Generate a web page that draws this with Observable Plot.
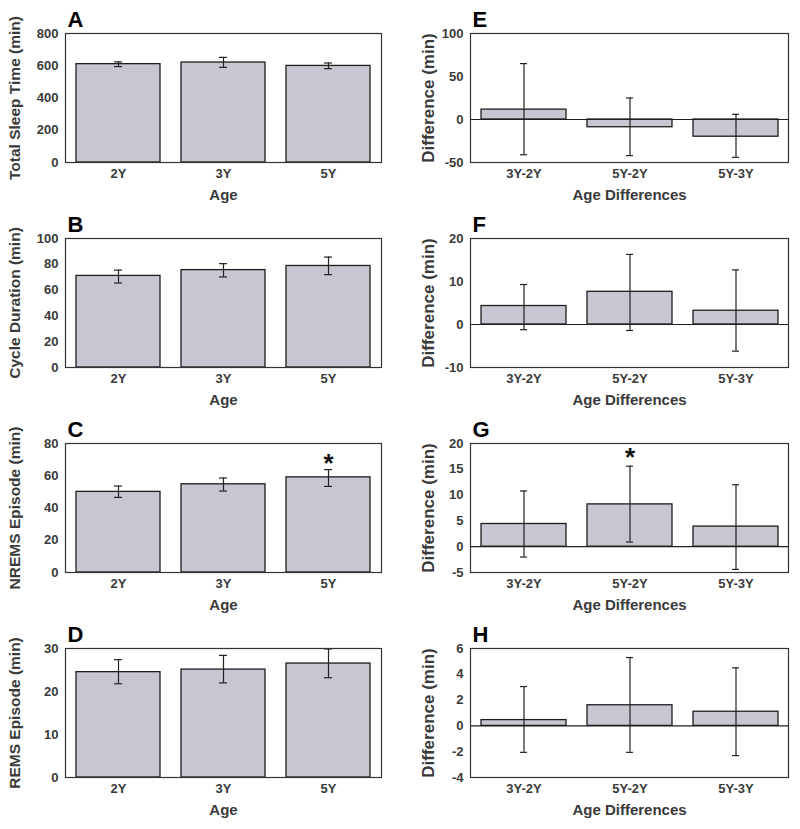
<!DOCTYPE html>
<html>
<head>
<meta charset="utf-8">
<script src="https://cdn.jsdelivr.net/npm/d3@7"></script>
<script src="https://cdn.jsdelivr.net/npm/@observablehq/plot@0.6"></script>
<style>
  html, body { margin: 0; padding: 0; background: #fff; }
  #root { position: relative; width: 800px; height: 829px; }
  .cell { position: absolute; }
</style>
</head>
<body>
<div id="root"></div>
<script>
// ---------- data ----------
const ages = ["2Y", "3Y", "5Y"];
const ageDiffs = ["3Y-2Y", "5Y-2Y", "5Y-3Y"];

// A: Total sleep time
const tstMean = [610, 620, 599];
const tstLo = [595, 590, 582];
const tstHi = [624, 652, 617];
const tstTicks = [0, 200, 400, 600, 800];

// B: Cycle duration
const cycMean = [71, 75.5, 78.7];
const cycLo = [65.5, 70.2, 72];
const cycHi = [75.5, 80.5, 85.6];
const cycTicks = [0, 20, 40, 60, 80, 100];

// C: NREMS episode
const nremMean = [50, 54.7, 59];
const nremLo = [46.6, 50.5, 53.4];
const nremHi = [53.6, 58.6, 63.8];
const nremTicks = [0, 20, 40, 60, 80];
const nremStars = [{cat: "5Y", y: 69}];

// D: REMS episode
const remMean = [24.5, 25.1, 26.5];
const remLo = [21.8, 22.0, 23.2];
const remHi = [27.4, 28.4, 29.9];
const remTicks = [0, 10, 20, 30];

// E: TST differences
const tstDiffMean = [11.5, -9, -20];
const tstDiffLo = [-41, -42, -44];
const tstDiffHi = [65, 25, 6];
const tstDiffTicks = [-50, 0, 50, 100];

// F: cycle differences
const cycDiffMean = [4.3, 7.6, 3.2];
const cycDiffLo = [-1.2, -1.4, -6.2];
const cycDiffHi = [9.3, 16.3, 12.7];
const cycDiffTicks = [-10, 0, 10, 20];

// G: NREMS differences
const nremDiffMean = [4.4, 8.2, 3.9];
const nremDiffLo = [-2.0, 0.9, -4.4];
const nremDiffHi = [10.8, 15.6, 12.0];
const nremDiffTicks = [-5, 0, 5, 10, 15, 20];
const nremDiffStars = [{cat: "5Y-2Y", y: 17.6}];

// H: REMS differences
const remDiffMean = [0.45, 1.6, 1.1];
const remDiffLo = [-2.05, -2.05, -2.3];
const remDiffHi = [3.05, 5.3, 4.5];
const remDiffTicks = [-4, -2, 0, 2, 4, 6];

// ---------- drawing ----------
const panels = [
  {letter: "A", col: 0, row: 0, cats: ages, mean: tstMean, lo: tstLo, hi: tstHi, ticks: tstTicks, ylabel: "Total Sleep Time (min)", xlabel: "Age"},
  {letter: "B", col: 0, row: 1, cats: ages, mean: cycMean, lo: cycLo, hi: cycHi, ticks: cycTicks, ylabel: "Cycle Duration (min)", xlabel: "Age"},
  {letter: "C", col: 0, row: 2, cats: ages, mean: nremMean, lo: nremLo, hi: nremHi, ticks: nremTicks, ylabel: "NREMS Episode (min)", xlabel: "Age", stars: nremStars},
  {letter: "D", col: 0, row: 3, cats: ages, mean: remMean, lo: remLo, hi: remHi, ticks: remTicks, ylabel: "REMS Episode (min)", xlabel: "Age"},
  {letter: "E", col: 1, row: 0, cats: ageDiffs, mean: tstDiffMean, lo: tstDiffLo, hi: tstDiffHi, ticks: tstDiffTicks, ylabel: "Difference (min)", xlabel: "Age Differences", zero: true},
  {letter: "F", col: 1, row: 1, cats: ageDiffs, mean: cycDiffMean, lo: cycDiffLo, hi: cycDiffHi, ticks: cycDiffTicks, ylabel: "Difference (min)", xlabel: "Age Differences", zero: true},
  {letter: "G", col: 1, row: 2, cats: ageDiffs, mean: nremDiffMean, lo: nremDiffLo, hi: nremDiffHi, ticks: nremDiffTicks, ylabel: "Difference (min)", xlabel: "Age Differences", zero: true, stars: nremDiffStars},
  {letter: "H", col: 1, row: 3, cats: ageDiffs, mean: remDiffMean, lo: remDiffLo, hi: remDiffHi, ticks: remDiffTicks, ylabel: "Difference (min)", xlabel: "Age Differences", zero: true}
];

const root = document.getElementById("root");
const FONT = "'Liberation Sans', Arial, Helvetica, sans-serif";
const TXT = "#3a3a3a";
const BAR = "#c6c7d0";

for (const p of panels) {
  const data = p.cats.map((c, i) => ({cat: c, mean: p.mean[i], lo: p.lo[i], hi: p.hi[i]}));
  const left = p.col === 0;
  const mL = left ? 65 : 70;
  const mR = left ? 19 : 12;
  const capInset = left ? 38 : 39;
  const chart = Plot.plot({
    width: 400,
    height: 205,
    marginLeft: mL,
    marginRight: mR,
    marginTop: 33,
    marginBottom: 43,
    x: {domain: p.cats, paddingInner: 0.2, paddingOuter: 0.1},
    y: {domain: [p.ticks[0], p.ticks[p.ticks.length - 1]]},
    style: {fontFamily: FONT, color: TXT, background: "transparent", overflow: "visible"},
    marks: [
      Plot.barY(data, {x: "cat", y1: 0, y2: "mean", fill: BAR, stroke: "#1e1e1e", strokeWidth: 1.3}),
      p.zero ? Plot.ruleY([0], {stroke: "#1e1e1e", strokeWidth: 1.2}) : null,
      Plot.ruleX(data, {x: "cat", y1: "lo", y2: "hi", stroke: "#222", strokeWidth: 1.2}),
      Plot.tickY(data, {x: "cat", y: "lo", insetLeft: capInset, insetRight: capInset, stroke: "#222", strokeWidth: 1.2}),
      Plot.tickY(data, {x: "cat", y: "hi", insetLeft: capInset, insetRight: capInset, stroke: "#222", strokeWidth: 1.2}),
      Plot.frame({stroke: "#333", strokeWidth: 1.2}),
      Plot.axisY(p.ticks, {tickSize: 0, tickPadding: 7, fontSize: 13, fontWeight: "bold", fill: TXT, label: null, tickFormat: d => String(d)}),
      Plot.axisX({tickSize: 0, tickPadding: 6, fontSize: 13, fontWeight: "bold", fill: TXT, label: null}),
      Plot.text([p.xlabel], {frameAnchor: "bottom", lineAnchor: "middle", dy: 33, fontSize: 15, fontWeight: "bold", fill: TXT}),
      Plot.text([p.ylabel], {frameAnchor: "left", textAnchor: "middle", dx: left ? -50 : -42, rotate: -90, fontSize: left ? 15.5 : 17, fontWeight: "bold", fill: TXT}),
      Plot.text([p.letter], {frameAnchor: "top-left", textAnchor: "start", lineAnchor: "bottom", dx: 2, dy: -7, fontSize: 22, fontWeight: "bold", fill: "#000"}),
      p.stars ? Plot.text(p.stars, {x: "cat", y: "y", text: () => "*", fontSize: 26, fontWeight: "bold", fill: "#111", dy: 2}) : null
    ]
  });
  const cell = document.createElement("div");
  cell.className = "cell";
  cell.style.left = (p.col * 400) + "px";
  cell.style.top = (p.row * 205) + "px";
  cell.appendChild(chart);
  root.appendChild(cell);
}
</script>
</body>
</html>
